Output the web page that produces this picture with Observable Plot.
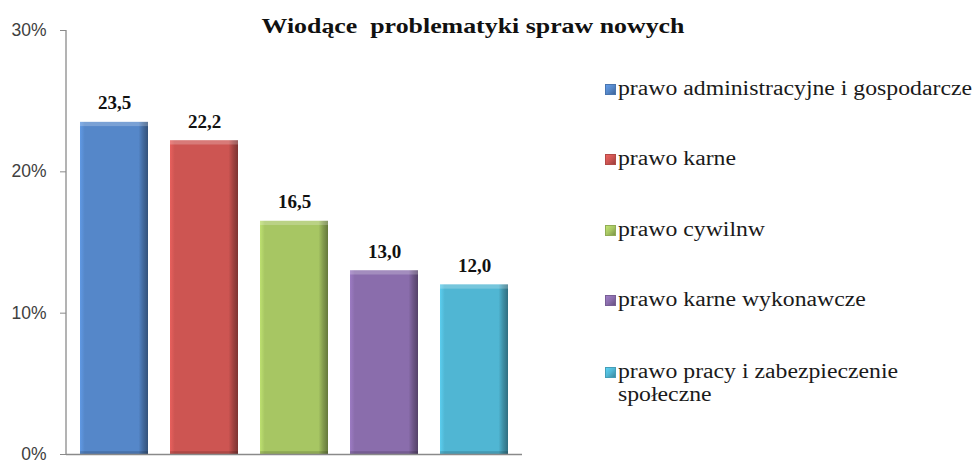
<!DOCTYPE html>
<html>
<head>
<meta charset="utf-8">
<script src="https://cdn.jsdelivr.net/npm/d3@7"></script>
<script src="https://cdn.jsdelivr.net/npm/@observablehq/plot@0.6"></script>
<style>
  html, body { margin: 0; padding: 0; background: #fff; }
  #wrap { position: relative; width: 974px; height: 464px; overflow: hidden; }
  #title { position: absolute; top: 14px; left: 473px;
    font-family: "Liberation Serif", "Times New Roman", serif; font-weight: bold; font-size: 21px;
    color: #111; white-space: pre; transform-origin: center top; }
  #legend { position: absolute; left: 605px; top: 0; width: 369px; }
  .ltxt { font-family: "Liberation Serif", "DejaVu Serif", serif; font-weight: 400; font-style: normal;
    font-size: 20px; line-height: 23px; color: #1a1a1a; transform-origin: left top; }
</style>
</head>
<body>
<div id="wrap">
  <div id="chart"></div>
  <div id="title"></div>
  <div id="legend"></div>
</div>
<script>
const title = "Wiodące  problematyki spraw nowych";
const categories = [
  "prawo administracyjne i gospodarcze",
  "prawo karne",
  "prawo cywilnw",
  "prawo karne wykonawcze",
  "prawo pracy i zabezpieczenie społeczne"
];
const values = [23.5, 22.2, 16.5, 13.0, 12.0];
const valueLabels = ["23,5", "22,2", "16,5", "13,0", "12,0"];
const colors = ["#5587C9", "#CD5552", "#A7C663", "#8A6DAC", "#50B6D3"];
const yTicks = [0, 10, 20, 30];

const data = categories.map((c, i) => ({cat: c, v: values[i], label: valueLabels[i]}));
const gradIds = categories.map((c, i) => `url(#grad${i})`);
const serif = "'Liberation Serif', 'Times New Roman', serif";

function defsMark() {
  const defs = d3.create("svg:defs");
  colors.forEach((col, i) => {
    const base = d3.color(col);
    const g = defs.append("linearGradient").attr("id", `grad${i}`)
      .attr("x1", "0").attr("x2", "1").attr("y1", "0").attr("y2", "0");
    g.append("stop").attr("offset", "0").attr("stop-color", base.brighter(0.35).formatHex());
    g.append("stop").attr("offset", "0.07").attr("stop-color", base.formatHex());
    g.append("stop").attr("offset", "0.86").attr("stop-color", base.formatHex());
    g.append("stop").attr("offset", "0.93").attr("stop-color", base.darker(0.7).formatHex());
    g.append("stop").attr("offset", "1").attr("stop-color", base.darker(1.4).formatHex());
  });
  return defs.node();
}

function axisLine(index, scales, values, dimensions) {
  const d = dimensions;
  const x = d.marginLeft;
  const line = d3.create("svg:line")
    .attr("x1", x).attr("x2", x)
    .attr("y1", d.marginTop).attr("y2", d.height - d.marginBottom)
    .attr("stroke", "#8a8a8a").attr("stroke-width", 1.3);
  return line.node();
}

const chart = Plot.plot({
  width: 974,
  height: 464,
  marginLeft: 66,
  marginRight: 452,
  marginTop: 30,
  marginBottom: 10,
  style: {fontFamily: "'Liberation Sans', Arial, sans-serif", fontSize: "17.5px", color: "#404040", background: "transparent"},
  x: {domain: categories, paddingInner: 0.24, paddingOuter: 0.13, axis: null},
  y: {domain: [0, 30], ticks: yTicks, tickFormat: d => d + "%", tickSize: 6, tickPadding: 14, label: null},
  color: {domain: categories, range: gradIds},
  marks: [
    defsMark,
    Plot.barY(data, {x: "cat", y: "v", fill: "cat"}),
    Plot.barY(data, {x: "cat", y1: d => d.v - 0.3, y2: "v", fill: "#ffffff", fillOpacity: 0.22}),
    Plot.barY(data, {x: "cat", y1: 0, y2: 0.2, fill: "#000000", fillOpacity: 0.15}),
    Plot.text(data, {x: "cat", y: "v", text: "label", dy: -19,
      fontFamily: serif, fontWeight: "bold", fontSize: 19, fill: "#111",
      letterSpacing: 0.8}),
    axisLine,
    Plot.ruleY([0], {stroke: "#8a8a8a", strokeWidth: 1.3})
  ]
});
d3.select(chart).selectAll("g[aria-label='y-axis tick'] path").attr("stroke", "#8a8a8a");
document.getElementById("chart").appendChild(chart);

const titleEl = document.getElementById("title");
titleEl.textContent = title;
const tw = titleEl.getBoundingClientRect().width;
titleEl.style.transform = `translateX(-50%) scaleX(${423 / tw})`;
titleEl.style.transformOrigin = "center top";

const legendTops = [77, 147, 218, 288, 360];
const legend = document.getElementById("legend");
const texts = [];
categories.forEach((c, i) => {
  const item = document.createElement("div");
  Object.assign(item.style, {position: "absolute", left: "0px", top: legendTops[i] + "px",
    display: "flex", alignItems: "flex-start"});
  const sw = document.createElement("div");
  const base = d3.color(colors[i]);
  Object.assign(sw.style, {width: "11px", height: "11px", marginTop: "7px", marginRight: "2px",
    flex: "none", boxSizing: "border-box",
    background: `linear-gradient(135deg, ${base.brighter(0.4).formatHex()} 0%, ${base.formatHex()} 50%, ${base.darker(0.8).formatHex()} 100%)`,
    border: `1px solid ${base.darker(0.4).formatHex()}`});
  const t = document.createElement("div");
  t.className = "ltxt";
  t.style.whiteSpace = i === 4 ? "normal" : "nowrap";
  t.textContent = c;
  item.appendChild(sw);
  item.appendChild(t);
  legend.appendChild(item);
  texts.push(t);
});
const w0 = texts[0].getBoundingClientRect().width;
const sx = 354 / w0;
texts.forEach((t, i) => {
  if (i === 4) t.style.width = (296 / sx) + "px";
  t.style.transform = `scaleX(${sx})`;
});
</script>
</body>
</html>
